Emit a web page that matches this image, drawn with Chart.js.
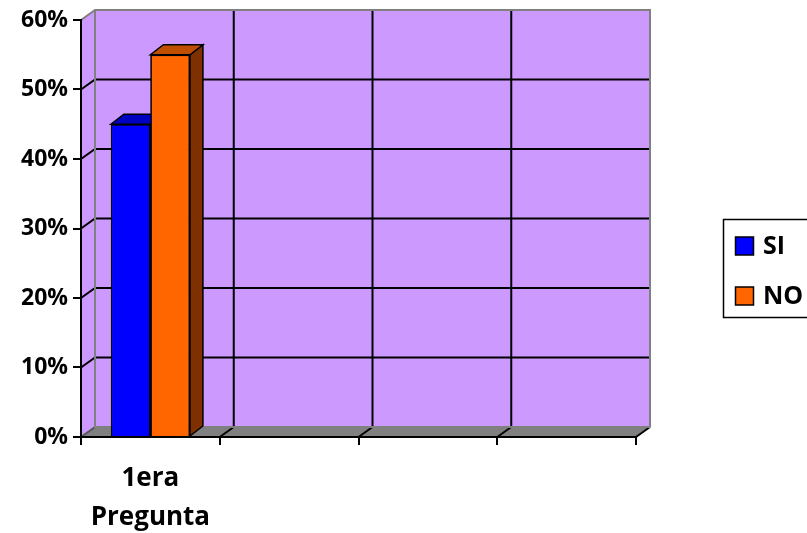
<!DOCTYPE html>
<html>
<head>
<meta charset="utf-8">
<script src="https://cdn.jsdelivr.net/npm/chart.js@4.4.0/dist/chart.umd.min.js"></script>
<style>
  html, body { margin: 0; padding: 0; background: #ffffff; }
  #wrap { width: 807px; height: 533px; position: relative; }
</style>
</head>
<body>
<div id="wrap"><canvas id="c" width="807" height="533"></canvas></div>
<script>
const categories = [["1era", "Pregunta"], "", "", ""];
const seriesNames = ["SI", "NO"];
const siValues = [0.45, null, null, null];
const noValues = [0.55, null, null, null];
const yTicks = [0, 0.1, 0.2, 0.3, 0.4, 0.5, 0.6];

const frontColors = ["#0000FF", "#FF6600"];
const topColors = ["#0000C0", "#C04E00"];
const sideColors = ["#000080", "#7F3000"];
const WALL = "#CC99FF";
const FLOOR = "#808080";
const FONT = "'Open Sans', Lato, sans-serif";
const WDX = 14, WDY = -10;   // wall depth offset
const BDX = 13, BDY = -10;   // bar depth offset

const wallPlugin = {
  id: 'wall3d',
  beforeDraw(chart) {
    const ctx = chart.ctx;
    const a = chart.chartArea;
    const y = chart.scales.y, x = chart.scales.x;
    ctx.save();
    ctx.fillStyle = WALL;
    ctx.fillRect(a.left + WDX, a.top + WDY, a.right - a.left, a.bottom - a.top);
    ctx.beginPath();
    ctx.moveTo(a.left, a.top);
    ctx.lineTo(a.left + WDX, a.top + WDY);
    ctx.lineTo(a.left + WDX, a.bottom + WDY);
    ctx.lineTo(a.left, a.bottom);
    ctx.closePath();
    ctx.fill();
    ctx.fillStyle = FLOOR;
    ctx.beginPath();
    ctx.moveTo(a.left, a.bottom);
    ctx.lineTo(a.left + WDX, a.bottom + WDY);
    ctx.lineTo(a.right + WDX, a.bottom + WDY);
    ctx.lineTo(a.right, a.bottom);
    ctx.closePath();
    ctx.fill();
    ctx.lineWidth = 2;
    yTicks.forEach(v => {
      if (v === 0 || v === 0.6) return;
      const py = y.getPixelForValue(v);
      ctx.strokeStyle = "#000000";
      ctx.beginPath();
      ctx.moveTo(a.left, py);
      ctx.lineTo(a.left + WDX, py + WDY);
      ctx.lineTo(a.right + WDX, py + WDY);
      ctx.stroke();
    });
    const n = categories.length;
    for (let i = 1; i < n; i++) {
      const px = (x.getPixelForTick(i - 1) + x.getPixelForTick(i)) / 2;
      ctx.strokeStyle = "#000000";
      ctx.beginPath();
      ctx.moveTo(px + WDX, a.top + WDY);
      ctx.lineTo(px + WDX, a.bottom + WDY);
      ctx.stroke();
    }
    const bounds = [];
    for (let i = 0; i <= n; i++) bounds.push(a.left + (a.right - a.left) * i / n);
    bounds.forEach((px, i) => {
      ctx.strokeStyle = i === 0 ? "#555555" : "#000000";
      ctx.beginPath();
      ctx.moveTo(px, a.bottom);
      ctx.lineTo(px + WDX, a.bottom + WDY);
      ctx.stroke();
    });
    ctx.strokeStyle = "#808080";
    ctx.lineWidth = 2;
    ctx.beginPath();
    ctx.moveTo(a.left, a.top);
    ctx.lineTo(a.left + WDX, a.top + WDY);
    ctx.lineTo(a.right + WDX, a.top + WDY);
    ctx.lineTo(a.right + WDX, a.bottom + WDY);
    ctx.moveTo(a.left + WDX, a.top + WDY);
    ctx.lineTo(a.left + WDX, a.bottom + WDY);
    ctx.lineTo(a.right + WDX, a.bottom + WDY);
    ctx.stroke();
    ctx.restore();
  },
  afterDatasetsDraw(chart) {
    const ctx = chart.ctx;
    ctx.save();
    chart.data.datasets.forEach((ds, di) => {
      const meta = chart.getDatasetMeta(di);
      meta.data.forEach((el, i) => {
        if (ds.data[i] == null) return;
        el.draw(ctx);
        const p = el.getProps(['x', 'y', 'base', 'width'], true);
        const l = p.x - p.width / 2, r = p.x + p.width / 2;
        ctx.lineWidth = 1.5;
        ctx.strokeStyle = "#000000";
        ctx.lineJoin = "miter";
        ctx.fillStyle = sideColors[di];
        ctx.beginPath();
        ctx.moveTo(r, p.y);
        ctx.lineTo(r + BDX, p.y + BDY);
        ctx.lineTo(r + BDX, p.base + BDY);
        ctx.lineTo(r, p.base);
        ctx.closePath();
        ctx.fill(); ctx.stroke();
        ctx.fillStyle = topColors[di];
        ctx.beginPath();
        ctx.moveTo(l, p.y);
        ctx.lineTo(l + BDX, p.y + BDY);
        ctx.lineTo(r + BDX, p.y + BDY);
        ctx.lineTo(r, p.y);
        ctx.closePath();
        ctx.fill(); ctx.stroke();
      });
    });
    ctx.restore();
  },
  afterDraw(chart) {
    const ctx = chart.ctx;
    ctx.save();
    ctx.strokeStyle = "#000000";
    ctx.lineWidth = 1.5;
    ctx.strokeRect(723.5, 219.5, 100, 98);
    ctx.font = "bold 25px " + FONT;
    ctx.textBaseline = "middle";
    ctx.textAlign = "left";
    const ys = [246, 296];
    chart.data.datasets.forEach((ds, di) => {
      ctx.fillStyle = frontColors[di];
      ctx.fillRect(735.5, ys[di] - 9, 18, 18);
      ctx.strokeRect(735.5, ys[di] - 9, 18, 18);
      ctx.fillStyle = "#000000";
      ctx.fillText(ds.label, 763, ys[di] + 1);
    });
    ctx.restore();
  }
};

new Chart(document.getElementById('c'), {
  type: 'bar',
  data: {
    labels: categories,
    datasets: [
      { label: seriesNames[0], data: siValues, backgroundColor: frontColors[0], borderColor: "#000000", borderWidth: 1.5 },
      { label: seriesNames[1], data: noValues, backgroundColor: frontColors[1], borderColor: "#000000", borderWidth: 1.5 }
    ]
  },
  options: {
    responsive: false,
    animation: false,
    events: [],
    layout: { padding: { top: 20, right: 171, left: 0, bottom: 0 } },
    plugins: { legend: { display: false }, tooltip: { enabled: false } },
    datasets: { bar: { categoryPercentage: 0.57, barPercentage: 1.0 } },
    scales: {
      x: {
        afterFit: s => { s.height = 96; },
        grid: { display: true, drawOnChartArea: false, drawTicks: true, tickLength: 8, color: "#000000", lineWidth: 2, offset: true },
        border: { display: true, color: "#000000", width: 2 },
        ticks: { color: "#000000", font: { family: FONT, size: 26, weight: 'bold', lineHeight: 1.5 }, padding: 14, maxRotation: 0 }
      },
      y: {
        min: 0, max: 0.6,
        afterFit: s => { s.width = 81; },
        afterBuildTicks: s => { s.ticks = yTicks.map(v => ({ value: v })); },
        grid: { display: true, drawOnChartArea: false, drawTicks: true, tickLength: 8, color: "#000000", lineWidth: 2 },
        border: { display: true, color: "#000000", width: 2 },
        ticks: {
          color: "#000000", padding: 5,
          font: { family: FONT, size: 23, weight: 'bold' },
          callback: v => Math.round(v * 100) + "%"
        }
      }
    }
  },
  plugins: [wallPlugin]
});
</script>
</body>
</html>
